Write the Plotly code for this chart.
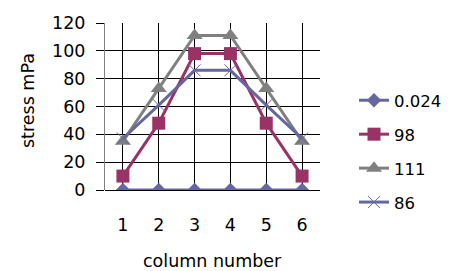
import plotly.graph_objects as go

columns = [1, 2, 3, 4, 5, 6]
s_0024 = [0, 0, 0, 0, 0, 0]
s_98 = [10, 48, 98, 98, 48, 10]
s_111 = [35, 73, 111, 111, 73, 35]
s_86 = [37, 61, 86, 86, 61, 37]
y_ticks = [0, 20, 40, 60, 80, 100, 120]

# page has an 8px body margin, so figure coords = page coords - 8
W, H = 443, 263
L, R, T, B = 97, 131, 15, 81
PW, PH = W - L - R, H - T - B
FONT = "DejaVu Sans, sans-serif"
FS = 17.5


def px_x(x):
    return (x - L) / PW


def px_y(y):
    return 1 - (y - T) / PH


fig = go.Figure()
fig.add_trace(go.Scatter(x=columns, y=s_0024, name="0.024", mode="lines+markers",
                         line=dict(color="#6666A0", width=3),
                         marker=dict(symbol="diamond", size=11, color="#6666A0"),
                         legendgroup="a"))
fig.add_trace(go.Scatter(x=columns, y=s_98, name="98", mode="lines+markers",
                         line=dict(color="#993366", width=3),
                         marker=dict(symbol="square", size=13, color="#993366"),
                         legendgroup="b"))
fig.add_trace(go.Scatter(x=columns, y=s_111, name="111", mode="lines+markers",
                         line=dict(color="#808080", width=3),
                         marker=dict(symbol="triangle-up", size=14, color="#808080"),
                         legendgroup="c"))
fig.add_trace(go.Scatter(x=columns, y=s_86, name="86", mode="lines+markers",
                         line=dict(color="#6666A0", width=3),
                         marker=dict(symbol="x-thin-open", size=12,
                                     line=dict(color="#6666A0", width=1)),
                         legendgroup="d"))

fig.update_layout(
    width=W, height=H,
    margin=dict(l=L, r=R, t=T, b=B, autoexpand=False),
    paper_bgcolor="white", plot_bgcolor="white",
    font=dict(family=FONT, size=FS, color="black"),
    showlegend=True,
    legend=dict(x=px_x(346), y=px_y(75), xanchor="left", yanchor="top",
                bgcolor="rgba(0,0,0,0)", font=dict(size=16.5), tracegroupgap=9.5,
                borderwidth=0),
    xaxis=dict(range=[0.5, 6.5], tickvals=columns, ticktext=[str(c) for c in columns],
               showgrid=True, gridcolor="black", gridwidth=1,
               showline=False, zeroline=False, ticks="", ticklabelstandoff=22,
               fixedrange=True, automargin=False),
    yaxis=dict(range=[0, 120], tickvals=y_ticks, showgrid=True, gridcolor="black",
               gridwidth=1, showline=True, linecolor="#808080", linewidth=1,
               ticks="outside", ticklen=8, tickcolor="black", zeroline=True,
               zerolinecolor="black", zerolinewidth=1, ticklabelstandoff=7,
               fixedrange=True, automargin=False),
    annotations=[
        dict(text="stress mPa", xref="paper", yref="paper",
             x=px_x(20), y=px_y(93), xanchor="center", yanchor="middle",
             textangle=-90, showarrow=False, font=dict(size=FS)),
        dict(text="column number", xref="paper", yref="paper",
             x=px_x(204), y=px_y(253), xanchor="center", yanchor="middle",
             showarrow=False, font=dict(size=FS)),
    ],
)

fig.write_html("out.html")
